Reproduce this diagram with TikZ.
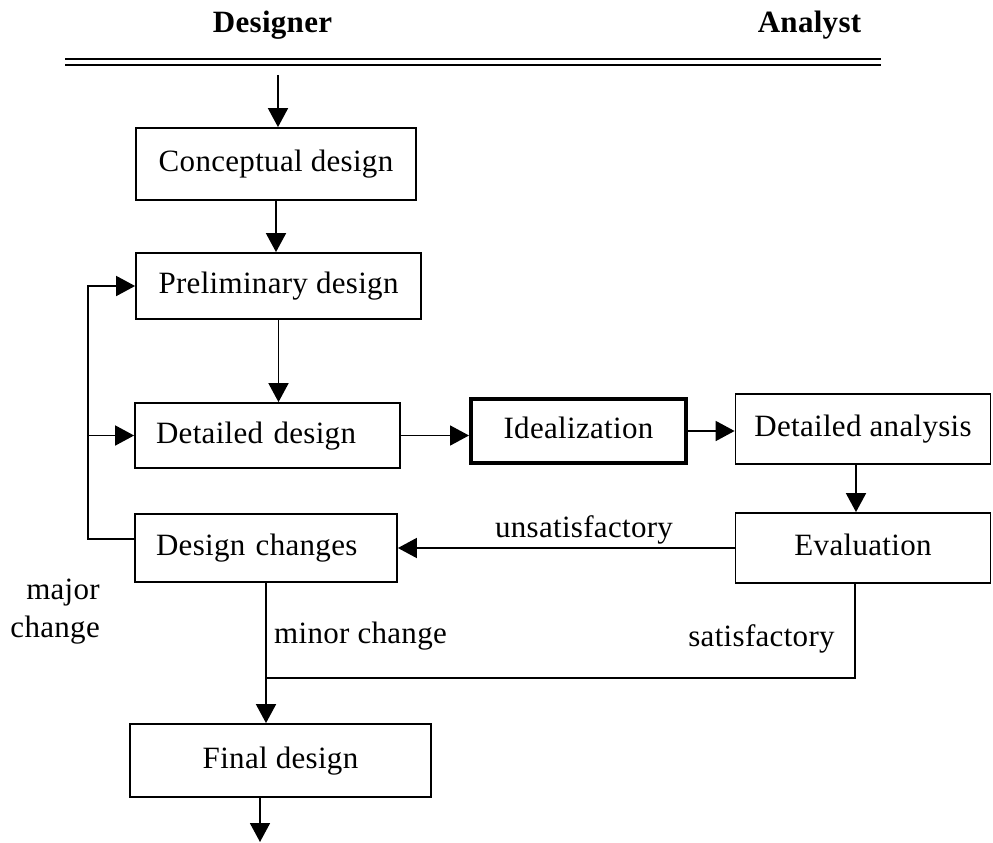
\documentclass[tikz,border=0pt]{standalone}
\usepackage{fontspec}
\setmainfont{Liberation Serif}[LetterSpace=1]
\usepackage{tikz}
\usetikzlibrary{arrows.meta}
\usetikzlibrary{calc}
\tikzset{
  box/.style={draw, rectangle, line width=1.8pt, inner sep=0,
    text height=21pt, text depth=6pt,
    font=\fontsize{31}{36}\selectfont},
  leftbox/.style={box, align=left, inner xsep=21pt},
  thickbox/.style={box, line width=4pt},
  lbl/.style={inner sep=0, font=\fontsize{31}{38}\selectfont},
  head/.style={inner sep=0, font=\fontsize{31}{36}\selectfont\bfseries},
  link/.style={line width=1.8pt},
  arrow/.style={link, -{Triangle[length=19pt,width=20pt]}}
}

\begin{document}
\begin{tikzpicture}[x=1pt, y=-1pt]
\useasboundingbox (0,0) rectangle (993,843);

\node[head, anchor=base] (designer) at (272.5,33) {Designer};
\node[head, anchor=base] (analyst) at (809.5,33) {Analyst};
\coordinate (ruleL) at (65,62);
\coordinate (ruleR) at (881,62);
\draw[double, double distance=3.5pt, line width=1.9pt] (ruleL) -- (ruleR);

\node[box, minimum width=280pt, minimum height=72pt] (concept) at (276,164) {Conceptual design};
\node[box, minimum width=285pt, minimum height=66pt] (prelim) at (278.5,286) {Preliminary design};
\node[leftbox, text width=223pt, minimum height=65pt] (detailed) at (267.5,435.5) {Detailed design};
\node[thickbox, minimum width=215pt, minimum height=64pt] (ideal) at (578.5,431) {Idealization};
\node[box, minimum width=255pt, minimum height=70pt] (analysis) at (863,429) {Detailed analysis};
\node[box, minimum width=255pt, minimum height=70pt] (evaluation) at (863,548) {Evaluation};
\node[leftbox, text width=220pt, minimum height=68pt] (changes) at (266,548) {Design changes};
\node[box, minimum width=301pt, minimum height=73pt] (final) at (280.5,760.5) {Final design};

\node[lbl, anchor=base] (unsat) at (584,537) {unsatisfactory};
\node[lbl, anchor=base] (sat) at (761.5,646) {satisfactory};
\node[lbl, anchor=base] (minor) at (360.5,643) {minor change};
\node[lbl, anchor=base east, align=right] (major) at (100,637) {major\\change};

\coordinate (entry) at (278,75);
\coordinate (bend) at (88,539);
\coordinate (daout) at ([xshift=-7pt]analysis.south);
\coordinate (evout) at ([xshift=-8pt]evaluation.south);
\coordinate (join) at (266,678);
\coordinate (exit) at (260,842);

\draw[arrow] (entry) -- (entry |- concept.north);
\draw[arrow] (concept.south) -- (concept.south |- prelim.north);
\draw[arrow] (prelim.south) -- (prelim.south |- detailed.north);
\draw[arrow] (detailed.east) -- (detailed.east -| ideal.west);
\draw[arrow] (ideal.east) -- (ideal.east -| analysis.west);
\draw[arrow] (daout) -- (daout |- evaluation.north);
\draw[arrow] (evaluation.west) -- (evaluation.west -| changes.east);
\draw[arrow] (bend -| changes.west) -- (bend) |- (prelim.west);
\draw[arrow] (bend |- detailed.west) -- (detailed.west);
\draw[arrow] (changes.south) -- (changes.south |- final.north);
\draw[link] (evout) |- (join);
\draw[arrow] (exit |- final.south) -- (exit);
\end{tikzpicture}
\end{document}
